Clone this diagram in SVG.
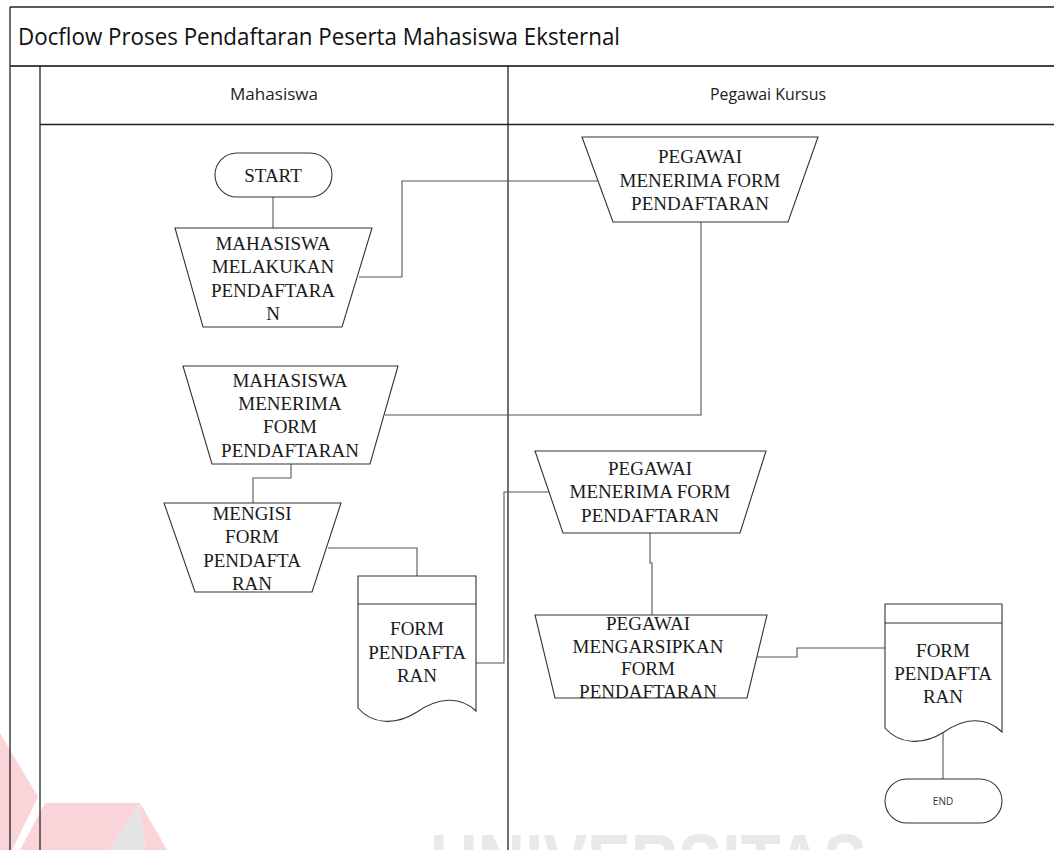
<svg xmlns="http://www.w3.org/2000/svg" width="1054" height="850" viewBox="0 0 1054 850">
<defs>
<style>
.lane{stroke:#222;stroke-width:1.3;fill:none}
.shape{fill:#fff;stroke:#333;stroke-width:1.1}
.conn{fill:none;stroke:#555;stroke-width:1.1}
.t{font-family:"Liberation Serif","Times New Roman",serif;font-size:19px;fill:#1a1a1a;text-anchor:middle}
.h{font-family:"Open Sans","Liberation Sans",sans-serif;font-size:16px;fill:#222;text-anchor:middle}
.wm{font-family:"Liberation Sans",Arial,sans-serif;font-weight:bold;font-size:80px;fill:#e9e9e9}
</style>
</defs>
<rect width="1054" height="850" fill="#fff"/>
<g id="watermark">
<polygon points="0,733 38,797 12,850 0,850" fill="#f9d4d8"/>
<polygon points="45,803 140,803 110,850 20,850" fill="#f9d4d8"/>
<polygon points="140,803 110,850 145,850" fill="#e4e4e4"/>
<polygon points="140,803 167,850 145,850" fill="#f9d4d8"/>
<text class="wm" x="430" y="890" textLength="437" lengthAdjust="spacingAndGlyphs">UNIVERSITAS</text>
</g>
<g id="pool">
<line class="lane" x1="10" y1="7" x2="1054" y2="7"/>
<line class="lane" x1="10" y1="7" x2="10" y2="850"/>
<line x1="10" y1="66" x2="1054" y2="66" stroke="#444" stroke-width="1.8"/>
<line class="lane" x1="40" y1="66" x2="40" y2="850"/>
<line class="lane" x1="40" y1="124.5" x2="1054" y2="124.5"/>
<line class="lane" x1="508" y1="66" x2="508" y2="850"/>
<text x="18" y="45" font-family="Open Sans,Liberation Sans,sans-serif" font-size="23" fill="#111" textLength="602" lengthAdjust="spacingAndGlyphs">Docflow Proses Pendaftaran Peserta Mahasiswa Eksternal</text>
<text class="h" x="274" y="100" textLength="88" lengthAdjust="spacingAndGlyphs">Mahasiswa</text>
<text class="h" x="768" y="100" textLength="116" lengthAdjust="spacingAndGlyphs">Pegawai Kursus</text>
</g>
<g id="connectors">
<polyline class="conn" points="273,197 273,228"/>
<polyline class="conn" points="359,277 402,277 402,181 598,181"/>
<polyline class="conn" points="701,222 701,415 385,415"/>
<polyline class="conn" points="291,464 291,478 253,478 253,503"/>
<polyline class="conn" points="328,548 417,548 417,576"/>
<polyline class="conn" points="476,663 504,663 504,492 549,492"/>
<polyline class="conn" points="650,533 650,563 652,563 652,615"/>
<polyline class="conn" points="757,657 797,657 797,648 885,648"/>
<polyline class="conn" points="943,733 943,779"/>
</g>
<g id="start">
<rect class="shape" x="215" y="153" width="117" height="44" rx="22"/>
<text class="t" x="273" y="182">START</text>
</g>
<g id="mhs-daftar">
<polygon class="shape" points="175,228 372,228 342,327 203,327"/>
<text class="t" x="273" y="250">MAHASISWA</text>
<text class="t" x="273" y="273">MELAKUKAN</text>
<text class="t" x="273" y="297">PENDAFTARA</text>
<text class="t" x="273" y="320">N</text>
</g>
<g id="pgw-terima1">
<polygon class="shape" points="582,137 818,137 788,222 613,222"/>
<text class="t" x="700" y="163">PEGAWAI</text>
<text class="t" x="700" y="187">MENERIMA FORM</text>
<text class="t" x="700" y="210">PENDAFTARAN</text>
</g>
<g id="mhs-terima">
<polygon class="shape" points="183,366 398,366 370,464 212,464"/>
<text class="t" x="290" y="387">MAHASISWA</text>
<text class="t" x="290" y="410">MENERIMA</text>
<text class="t" x="290" y="433">FORM</text>
<text class="t" x="290" y="457">PENDAFTARAN</text>
</g>
<g id="mengisi">
<polygon class="shape" points="164,503 341,503 312,592 195,592"/>
<text class="t" x="252" y="520">MENGISI</text>
<text class="t" x="252" y="543">FORM</text>
<text class="t" x="252" y="567">PENDAFTA</text>
<text class="t" x="252" y="590">RAN</text>
</g>
<g id="doc-form1">
<path class="shape" d="M358,576 H476 V711 C460,695 437,698 417,712 C395,726 372,724 358,708 Z"/>
<line class="shape" x1="358" y1="604" x2="476" y2="604"/>
<text class="t" x="417" y="635">FORM</text>
<text class="t" x="417" y="659">PENDAFTA</text>
<text class="t" x="417" y="682">RAN</text>
</g>
<g id="pgw-terima2">
<polygon class="shape" points="535,451 766,451 740,533 563,533"/>
<text class="t" x="650" y="475">PEGAWAI</text>
<text class="t" x="650" y="498">MENERIMA FORM</text>
<text class="t" x="650" y="522">PENDAFTARAN</text>
</g>
<g id="pgw-arsip">
<polygon class="shape" points="535,615 767,615 747,698 555,698"/>
<text class="t" x="648" y="630">PEGAWAI</text>
<text class="t" x="648" y="653">MENGARSIPKAN</text>
<text class="t" x="648" y="675">FORM</text>
<text class="t" x="648" y="698">PENDAFTARAN</text>
</g>
<g id="doc-form2">
<path class="shape" d="M885,604 H1002 V732 C986,716 964,718 944,732 C922,746 899,744 885,728 Z"/>
<line class="shape" x1="885" y1="623" x2="1002" y2="623"/>
<text class="t" x="943" y="657">FORM</text>
<text class="t" x="943" y="680">PENDAFTA</text>
<text class="t" x="943" y="703">RAN</text>
</g>
<g id="end">
<rect class="shape" x="885" y="779" width="117" height="44" rx="22"/>
<text x="943" y="805" font-family="Open Sans,Liberation Sans,sans-serif" font-size="10" fill="#333" text-anchor="middle">END</text>
</g>
</svg>
